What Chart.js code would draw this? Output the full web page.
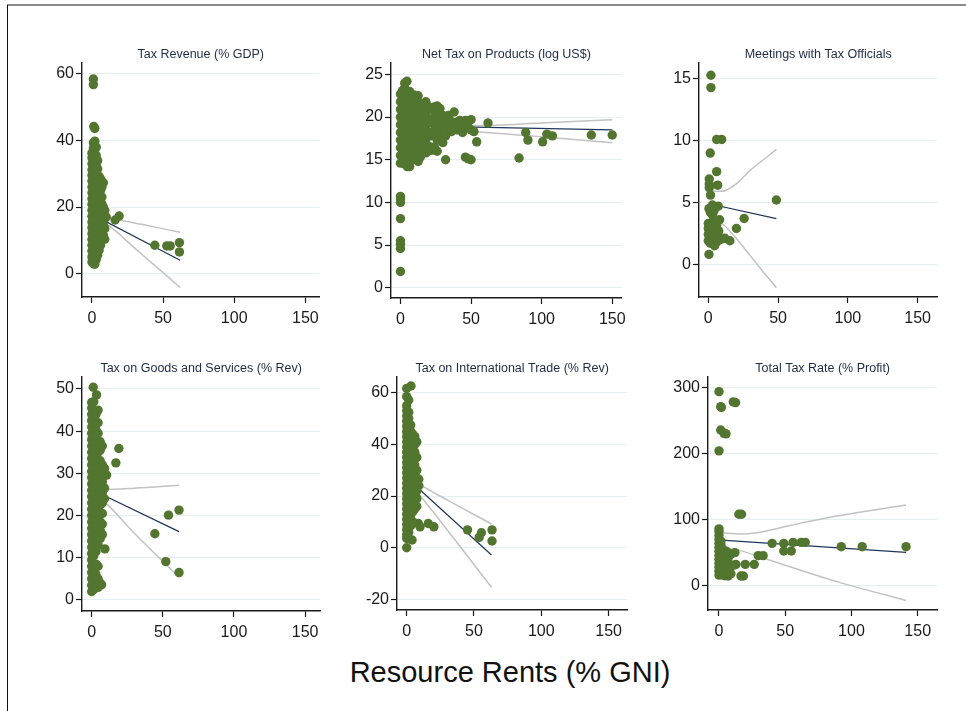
<!DOCTYPE html>
<html><head><meta charset="utf-8">
<script src="https://cdn.jsdelivr.net/npm/chart.js@4.4.1/dist/chart.umd.min.js"></script>
<style>
html,body{margin:0;padding:0;background:#fff;width:966px;height:711px;overflow:hidden;position:relative;font-family:'Liberation Sans',Arial,sans-serif}
.frameTop{position:absolute;left:7px;top:4px;width:959px;height:2px;background:#8a8a8a}
.frameLeft{position:absolute;left:7px;top:5px;width:1px;height:706px;background:#111}
canvas{position:absolute}
#xlabel{position:absolute;left:260px;width:500px;top:658px;line-height:29px;text-align:center;font-size:29px;color:#111;white-space:nowrap}
</style></head>
<body>
<div class="frameTop"></div><div class="frameLeft"></div>
<canvas id="c1"></canvas><canvas id="c2"></canvas><canvas id="c3"></canvas>
<canvas id="c4"></canvas><canvas id="c5"></canvas><canvas id="c6"></canvas>
<div id="xlabel">Resource Rents (% GNI)</div>
<script>
// ---------- DATA ----------
const titles = ["Tax Revenue (% GDP)","Net Tax on Products (log US$)","Meetings with Tax Officials",
  "Tax on Goods and Services (% Rev)","Tax on International Trade (% Rev)","Total Tax Rate (% Profit)"];
const xTicks = [0,50,100,150];
const yTicks1 = [0,20,40,60];
const yTicks2 = [0,5,10,15,20,25];
const yTicks3 = [0,5,10,15];
const yTicks4 = [0,10,20,30,40,50];
const yTicks5 = [-20,0,20,40,60];
const yTicks6 = [0,100,200,300];

// Panel 1: Tax Revenue (% GDP)
const taxRevPts = [[1,58.5],[1,56.8],[1.3,44.2],[2,43.6],[16.3,16.1],[19.1,17.3],[44.2,8.5],[52.6,8.3],[55,8.3],[61.5,9.3],[61.5,6.5],
[0,3.5],[0,5],[0,6.8],[0,8.5],[0,10.2],[0,12],[0,13.8],[0,15.5],[0,17.2],[0,19],[0,20.8],[0,22.5],[0,24.3],[0,26],[0,27.8],[0,29.5],[0,31.2],[0,33],[0,34.8],[0,36.2],
[1,3],[1,4.6],[1,7.5],[1,9.4],[1,11.3],[1,13],[1,14.9],[1,16.4],[1,18.2],[1,20],[1,21.7],[1,23.6],[1,25.2],[1,27],[1,28.8],[1,30.4],[1,32.3],[1,34],[1,35.8],[1,37.6],[1,39.3],
[2,2.8],[2,5.8],[2,8.1],[2,10.9],[2,12.6],[2,14.3],[2,16],[2,17.8],[2,19.5],[2,21.3],[2,23],[2,24.8],[2,26.5],[2,28.3],[2,30],[2,31.8],[2,33.5],[2,35.3],[2,37.2],[2,39.8],
[3,4.2],[3,6.5],[3,9],[3,11.5],[3,13.5],[3,15.2],[3,17],[3,18.8],[3,20.5],[3,22.3],[3,24],[3,25.8],[3,27.5],[3,29.3],[3,31],[3,33],[3,35.5],[3,38],
[4,5.5],[4,8],[4,10.5],[4,12.5],[4,14.5],[4,16.5],[4,18.5],[4,20.3],[4,22],[4,23.8],[4,25.5],[4,27.3],[4,29],[4,31.5],[4,34],
[5,7],[5,9.7],[5,12],[5,14],[5,16],[5,18],[5,19.8],[5,21.6],[5,23.4],[5,25.2],[5,27],[5,29.2],
[6,8.5],[6,11],[6,13.2],[6,15.5],[6,17.5],[6,19.5],[6,21.3],[6,23],[6,25],[6,28.5],
[7,10],[7,12.5],[7,15],[7,17],[7,19],[7,21],[7,23],[7,26],
[8,11.5],[8,14.5],[8,17.5],[8,20],[8,27.3],[9,10.3],[9,13.5],[9,16.5],[9,19],[10,17]];
const taxRevFit = [[0,17.8],[62,4.0]];
const taxRevUp  = [[0,18.3],[9,17.1],[35,14.8],[62,12.4]];
const taxRevLo  = [[0,17.2],[9,15.3],[35,5.8],[62,-4.2]];

// Panel 2: Net Tax on Products (log US$)
const netTaxPts = [[0,10.7],[0,10.4],[0,10.0],[0,8.1],[0,5.5],[0,5.1],[0,4.6],[0,1.9],
[0,14.6],[0,15.5],[0,16.4],[0,17.3],[0,18.2],[0,19.1],[0,20],[0,20.9],[0,21.8],[0,22.7],
[1.5,15],[1.5,15.9],[1.5,16.8],[1.5,17.7],[1.5,18.6],[1.5,19.5],[1.5,20.4],[1.5,21.3],[1.5,22.2],[1.5,23.1],
[3,14.5],[3,15.4],[3,16.3],[3,17.2],[3,18.1],[3,19],[3,19.9],[3,20.8],[3,21.7],[3,22.6],[3,23.4],[3,24.0],
[4.6,24.2],[4.6,15],[4.6,16.6],[4.6,18.4],[4.6,20.2],[4.6,22],[4.8,14.2],[6.5,14.2],
[5,15.8],[5,17.5],[5,19.3],[5,21.1],[5,22.9],
[6.5,14.7],[6.5,16.2],[6.5,17.9],[6.5,19.6],[6.5,21.4],[6.5,23],
[8,15.4],[8,17],[8,18.8],[8,20.5],[8,22.3],
[9.5,16.1],[9.5,17.8],[9.5,19.5],[9.5,21.2],[9.5,22.6],
[11,15],[11,16.8],[11,18.5],[11,20.2],[11,22],
[12.5,14.8],[12.5,16],[12.5,17.6],[12.5,19.2],[12.5,21],[12.5,22.5],
[14,15.3],[14,17],[14,18.6],[14,20.2],[14,21.6],
[16,16.3],[16,18],[16,19.6],[16,21.3],
[18,15.8],[18,17.4],[18,19],[18,20.6],[18,21.8],
[20,16.6],[20,18.2],[20,19.8],[20,21.2],
[22,16.1],[22,17.8],[22,19.4],[22,20.9],
[24,16.5],[24,18.5],[24,20],[24,21.2],
[26,16],[26,17.3],[26,19.2],[26,20.6],[26,21.3],
[28,18],[28,19.5],[28,21],[30,17],[30,18.8],[30,20.2],
[32,15],[32,17.8],[32,19.3],[32,20],[34,18.6],[34,20.2],[36,19.5],[36,18.3],
[38,18.9],[38,20.6],[40,19.4],[40,18.5],[42,18.7],[42,19.6],[44,19],[44,18.2],
[46,15.3],[46,19.6],[48,18.8],[48,15.1],[48,19.4],[50,19.7],[50,15.0],[50,18.5],
[52,18.3],[54,17.1],[62,19.3],[84,15.2],[88.7,18.2],[90.3,17.3],[100.7,17.1],[103.7,18.0],[107.6,17.8],[135.2,17.9],[150,17.9]];
const netTaxFit = [[0,19.0],[150,18.5]];
const netTaxUp  = [[0,19.2],[52,19.0],[100,19.3],[150,19.7]];
const netTaxLo  = [[0,18.8],[52,18.3],[100,17.7],[150,17.0]];

// Panel 3: Meetings with Tax Officials
const meetPts = [[1.9,15.3],[1.9,14.3],[6,10.1],[9.6,10.1],[1.4,9.0],[0.7,6.9],[0.7,6.5],[0.7,6.2],[6,7.5],[6.7,6.4],[1.6,5.6],[48.8,5.2],
[7.1,4.7],[0.5,4.5],[1.5,4.2],[3,4.0],[25.7,3.7],[8.1,3.6],[20.2,2.9],[15.5,1.9],[11.9,2.1],[0.5,0.8],
[0,1.9],[0,2.4],[0,2.9],[0,3.3],[1.5,1.7],[1.5,2.2],[1.5,2.7],[1.5,3.2],[3,2.0],[3,2.6],[3,3.1],[4,3.5],
[4.5,1.5],[4.5,2.3],[5.5,2.8],[6,1.8],[6,3.2],[7.5,2.2],[7.5,2.7],[9,2.0],[4,4.3],[3,4.8]];
const meetFit = [[0.5,4.9],[48.8,3.7]];
const meetUp  = [[0.5,6.1],[5,5.9],[10,5.9],[20,6.5],[30,7.6],[40,8.5],[48.8,9.3]];
const meetLo  = [[0.5,3.8],[5,3.6],[10,3.3],[20,2.1],[30,0.7],[40,-0.7],[48.8,-1.9]];

// Panel 4: Tax on Goods and Services (% Rev)
const goodsPts = [[19.1,35.9],[17,32.5],[9.3,12.1],[44.4,15.7],[54,20.1],[61.4,21.3],[52.1,9.1],[61.4,6.5],[1.1,50.4],[3.4,48.6],[0,46.8],[10.5,29.6],[7,3.6],
[0,2],[0,3.5],[0,5],[0,6.5],[0,8],[0,9.5],[0,11],[0,12.5],[0,14],[0,15.5],[0,17],[0,18.5],[0,20],[0,21.5],[0,23],[0,24.5],[0,26],[0,27.5],[0,29],[0,30.5],[0,32],[0,33.5],[0,35],[0,36.5],[0,38],[0,39.5],[0,41],[0,42.5],[0,44],[0,45.5],
[1.5,2.5],[1.5,4.5],[1.5,7],[1.5,10.5],[1.5,12],[1.5,13.5],[1.5,15],[1.5,16.5],[1.5,18],[1.5,19.5],[1.5,21],[1.5,22.5],[1.5,24],[1.5,25.5],[1.5,27],[1.5,28.5],[1.5,30],[1.5,31.5],[1.5,33],[1.5,34.5],[1.5,36],[1.5,37.5],[1.5,39],[1.5,40.5],[1.5,42],[1.5,43.5],[1.5,45],[1.5,47],
[3,3.5],[3,6],[3,8.5],[3,11.5],[3,14],[3,15.8],[3,17.5],[3,19.2],[3,21],[3,22.8],[3,24.5],[3,26.3],[3,28],[3,29.8],[3,31.5],[3,33.3],[3,35],[3,36.8],[3,38.5],[3,40.3],[3,42],[3,44],
[4.5,3],[4.5,5],[4.5,8],[4.5,13],[4.5,15],[4.5,17],[4.5,19],[4.5,21],[4.5,23],[4.5,25],[4.5,27],[4.5,29],[4.5,31],[4.5,33],[4.5,35],[4.5,37],[4.5,39.5],[4.5,42],[4.5,45],
[6,4],[6,14.5],[6,16.5],[6,18.5],[6,20.5],[6,22.5],[6,24.5],[6,26.5],[6,28.5],[6,30.5],[6,33],[6,35.5],[6,37.5],
[7.5,15.5],[7.5,18],[7.5,20.5],[7.5,23],[7.5,25.5],[7.5,28],[7.5,30],[7.5,32],[7.5,36.5],[9,24],[9,26.5],[9,29.5],[9,31.2]];
const goodsFit = [[0,26.2],[61.4,16.2]];
const goodsUp  = [[0,26.8],[9.3,26.2],[30,26.5],[61.4,27.2]];
const goodsLo  = [[0,25.6],[9.3,23.2],[30,15.8],[61.4,5.4]];

// Panel 5: Tax on International Trade (% Rev)
const tradePts = [[63.4,6.9],[63.4,2.6],[45.2,6.9],[53.8,4.0],[55.5,5.8],[16,9.4],[20.2,8.1],[8.6,9.4],[9.9,8.1],[0,61.7],[3.2,62.6],[0,58.5],[1.5,57.2],[0,0],[0,3.6],[4,3],
[0,5],[0,7],[0,9],[0,11],[0,13],[0,15],[0,17],[0,19],[0,21],[0,23],[0,25],[0,27],[0,29],[0,31],[0,33],[0,35],[0,37],[0,39],[0,41],[0,43],[0,45],[0,47],[0,49],[0,51],[0,53],[0,55],
[1.5,6],[1.5,8],[1.5,10],[1.5,12],[1.5,14],[1.5,16],[1.5,18],[1.5,20],[1.5,22],[1.5,24],[1.5,26],[1.5,28],[1.5,30],[1.5,32],[1.5,34],[1.5,36],[1.5,38],[1.5,40],[1.5,42],[1.5,44],[1.5,46],[1.5,48],[1.5,50],[1.5,52.5],
[3,8.5],[3,11],[3,13],[3,15],[3,17],[3,19],[3,21],[3,23],[3,25],[3,27],[3,29],[3,31],[3,33],[3,35],[3,37],[3,39],[3,41],[3,43],[3,45],[3,47.5],
[4.5,10],[4.5,14],[4.5,16],[4.5,18],[4.5,20],[4.5,22],[4.5,24],[4.5,26],[4.5,28],[4.5,30],[4.5,32],[4.5,34],[4.5,36],[4.5,38],[4.5,40],[4.5,42.5],[4.5,44],
[6,15],[6,17],[6,19.5],[6,22],[6,24.5],[6,27],[6,29.5],[6,32],[6,34.5],[6,37],[6,40],[6,43],
[7.5,16],[7.5,19],[7.5,22],[7.5,25],[7.5,27],[7.5,30],[7.5,35],[7.5,41],[9,26.5],[9,24]];
const tradeFit = [[0,27.1],[63,-2.8]];
const tradeUp  = [[0,28.2],[8.6,24.9],[30,18.5],[63,9.2]];
const tradeLo  = [[0,26.0],[8.6,21.0],[30,7.0],[63,-15.3]];

// Panel 6: Total Tax Rate (% Profit)
const totalPts = [[0,293.5],[1.3,270.8],[1.8,269.5],[10.8,278],[12.5,277],[1.3,235.5],[3.8,230.5],[5.3,229.7],[0,204],[15,108],[17,108],
[40.1,64],[48.9,64],[48.9,52.5],[54.6,52.5],[55.9,65.5],[62.1,65.5],[65.1,65.5],[92.3,59],[108.1,59],[141.2,59],
[29.6,45.4],[33.3,45.4],[19.8,32.3],[26.6,32.3],[12.8,32],[16.6,14.7],[18.4,14.7],[7,14.7],[12,50],
[0,16],[0,22],[0,28],[0,34],[0,40],[0,46],[0,52],[0,58],[0,64],[0,70],[0,76],[0,82],[0,86],
[1.5,18],[1.5,25],[1.5,31],[1.5,37],[1.5,43],[1.5,49],[1.5,55],[1.5,61],[1.5,67],
[3,16],[3,21],[3,27],[3,33],[3,39],[3,45],[3,51],
[4.5,15],[4.5,19],[4.5,24],[4.5,30],[4.5,36],[4.5,42],[4.5,48],[4.5,53],
[6,17],[6,22],[6,28],[6,34],[6,40],[6,46],[6,51],
[7.5,20],[7.5,26],[7.5,33],[7.5,44],[9,18],[9,48],[11,31]];
const totalFit = [[2,69],[141.2,50.5]];
const totalUp  = [[2,80],[15.8,78],[28.3,80],[53.4,91],[91,106],[141.2,122]];
const totalLo  = [[2,58],[15.8,53],[40.8,37],[91,5],[141.2,-22.5]];

// ---------- LAYOUT / STYLE ----------
const GREEN = '#527630', FIT = '#1e3659', CI = '#c2c2c2', GRID = '#e6eef2', AX = '#1a1a1a';
Chart.defaults.font.family = "'Liberation Sans', Arial, sans-serif";

const panels = [
  {id:'c1', L:82,  R:321, T:63,  B:297, xmin:-7,   xmax:160,   ymin:-7.05, ymax:63.3, yt:yTicks1, pts:taxRevPts, fit:taxRevFit, up:taxRevUp, lo:taxRevLo},
  {id:'c2', L:391, R:628, T:63,  B:298, xmin:-6.7, xmax:156.8, ymin:-1.21, ymax:26.34, yt:yTicks2, pts:netTaxPts, fit:netTaxFit, up:netTaxUp, lo:netTaxLo},
  {id:'c3', L:699, R:938, T:63,  B:297, xmin:-6.64,xmax:164.1, ymin:-2.65, ymax:16.29, yt:yTicks3, pts:meetPts, fit:meetFit, up:meetUp, lo:meetLo},
  {id:'c4', L:82,  R:321, T:377, B:611, xmin:-6.8, xmax:160.7, ymin:-2.61, ymax:52.84, yt:yTicks4, pts:goodsPts, fit:goodsFit, up:goodsUp, lo:goodsLo},
  {id:'c5', L:397, R:628, T:377, B:610, xmin:-7.2, xmax:163.9, ymin:-24.1, ymax:66.1, yt:yTicks5, pts:tradePts, fit:tradeFit, up:tradeUp, lo:tradeLo},
  {id:'c6', L:708, R:938, T:377, B:610, xmin:-8.3, xmax:164.8, ymin:-36.8, ymax:315.7, yt:yTicks6, pts:totalPts, fit:totalFit, up:totalUp, lo:totalLo}
];

const toXY = a => a.map(p => ({x:p[0], y:p[1]}));

panels.forEach((o, i) => {
  const yw = 50, xh = 34, th = 16, pr = 4;
  const cv = document.getElementById(o.id);
  const w = o.R - o.L + yw + pr, h = o.B - o.T + th + xh;
  cv.style.left = (o.L - yw) + 'px'; cv.style.top = (o.T - th) + 'px';
  cv.width = w; cv.height = h; cv.style.width = w + 'px'; cv.style.height = h + 'px';
  new Chart(cv, {
    type: 'scatter',
    data: { datasets: [
      {data: toXY(o.pts), backgroundColor: GREEN, borderColor: GREEN, pointRadius: 4.7, borderWidth: 0, order: 0},
      {data: toXY(o.fit), showLine: true, borderColor: FIT, borderWidth: 1.2, pointRadius: 0, order: 1},
      {data: toXY(o.up), showLine: true, borderColor: CI, borderWidth: 1.5, pointRadius: 0, cubicInterpolationMode: 'monotone', order: 2},
      {data: toXY(o.lo), showLine: true, borderColor: CI, borderWidth: 1.5, pointRadius: 0, cubicInterpolationMode: 'monotone', order: 3}
    ]},
    options: {
      responsive: false, animation: false,
      layout: {padding: {left: 0, top: 0, right: pr, bottom: 0}},
      plugins: {
        legend: {display: false}, tooltip: {enabled: false},
        title: {display: true, text: titles[i], fullSize: false, color: '#1f2a44',
                font: {size: 12.5, weight: 'normal'}, padding: {top: 0, bottom: 1}}
      },
      scales: {
        x: {type: 'linear', min: o.xmin, max: o.xmax,
            afterFit: s => { s.height = xh; },
            afterBuildTicks: s => { s.ticks = xTicks.map(v => ({value: v})); },
            grid: {drawOnChartArea: false, drawTicks: true, tickLength: 6, tickColor: AX, tickWidth: 1.2},
            border: {display: true, color: AX, width: 1.4},
            ticks: {color: AX, font: {size: 16}, padding: 6, maxRotation: 0, autoSkip: false}},
        y: {type: 'linear', min: o.ymin, max: o.ymax,
            afterFit: s => { s.width = yw; },
            afterBuildTicks: s => { s.ticks = o.yt.map(v => ({value: v})); },
            grid: {color: GRID, lineWidth: 1, drawTicks: true, tickLength: 6, tickColor: AX, tickWidth: 1.2},
            border: {display: true, color: AX, width: 1.4},
            ticks: {color: AX, font: {size: 16}, padding: 2, autoSkip: false}}
      }
    }
  });
});
</script>
</body></html>
